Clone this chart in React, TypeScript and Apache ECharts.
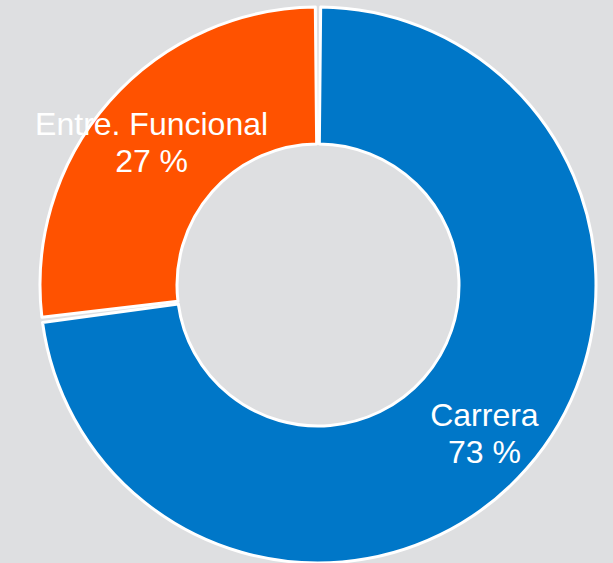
import React, { useEffect, useRef } from "react";
import * as echarts from "echarts";

const categories: string[] = ["Carrera", "Entre. Funcional"];
const values: number[] = [73, 27];
const colors: string[] = ["#0077c8", "#ff5200"];

export default function App() {
  const ref = useRef<HTMLDivElement>(null);
  useEffect(() => {
    if (!ref.current) return;
    const chart = echarts.init(ref.current, undefined, { renderer: "svg" });
    chart.setOption({
      animation: false,
      backgroundColor: "#dedfe1",
      series: [
        {
          type: "pie",
          center: [318, 285],
          radius: [141, 278],
          startAngle: 90,
          clockwise: true,
          padAngle: 1.1,
          avoidLabelOverlap: false,
          itemStyle: { borderColor: "#ffffff", borderWidth: 3 },
          label: {
            show: true,
            position: "inside",
            color: "#ffffff",
            fontFamily: "Liberation Sans, Arial, Helvetica, sans-serif",
            fontSize: 32,
            lineHeight: 37,
            formatter: (p: any) => `${p.name}\n${p.value} %`,
          },
          labelLine: { show: false },
          emphasis: { disabled: true },
          data: categories.map((name, i) => ({
            name,
            value: values[i],
            itemStyle: { color: colors[i] },
            label: { offset: i === 0 ? [7, 8] : [-7, -2] },
          })),
        },
      ],
    });
    return () => chart.dispose();
  }, []);
  return (
    <div
      ref={ref}
      style={{ position: "absolute", left: 0, top: 0, width: 613, height: 563 }}
    />
  );
}
